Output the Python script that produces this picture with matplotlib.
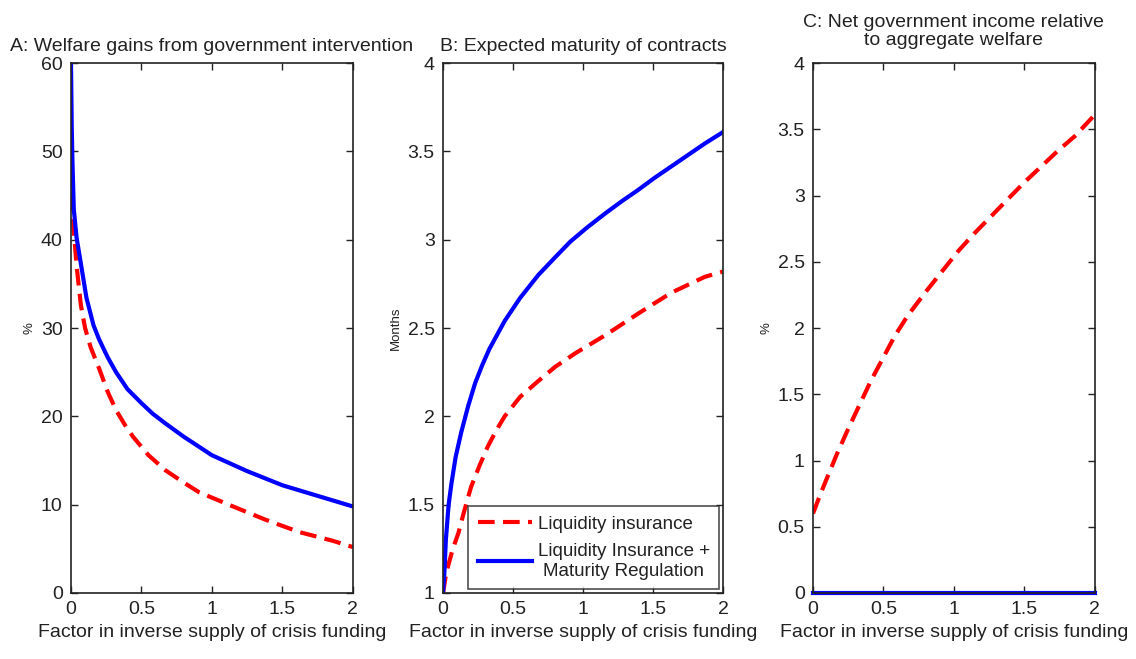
import matplotlib.pyplot as plt

plt.rcParams['font.family'] = ['Liberation Sans', 'DejaVu Sans']

# Panel A: welfare gains (%)
a_blue_x = [0, 0.005, 0.01, 0.02, 0.04, 0.07, 0.11, 0.16, 0.2, 0.26, 0.32, 0.4, 0.5, 0.58, 0.67, 0.8, 1.0,
            1.25, 1.5, 1.75, 2.0]
a_blue_y = [60, 53, 49, 43.4, 40.2, 37.3, 33.4, 30.3, 28.7, 26.7, 25.0, 23.1, 21.5, 20.3, 19.2, 17.7, 15.6,
            13.8, 12.2, 11.0, 9.8]
a_red_x = [0, 0.005, 0.01, 0.02, 0.04, 0.07, 0.1, 0.14, 0.2, 0.26, 0.32, 0.38, 0.44, 0.55, 0.67, 0.8, 0.91,
           1.03, 1.15, 1.38, 1.62, 1.86, 2.0]
a_red_y = [48, 46, 44, 41, 37, 32.6, 30.0, 27.8, 25.4, 22.8, 20.7, 19.1, 17.7, 15.6, 13.9, 12.5, 11.4,
           10.6, 9.8, 8.3, 6.9, 5.9, 5.2]

# Panel B: expected maturity (months)
b_blue_x = [0, 0.01, 0.02, 0.04, 0.06, 0.09, 0.13, 0.18, 0.23, 0.28, 0.33, 0.44, 0.55, 0.68, 0.8, 0.91,
            1.03, 1.16, 1.28, 1.39, 1.51, 1.63, 1.75, 1.87, 2.0]
b_blue_y = [1.0, 1.12, 1.3, 1.5, 1.62, 1.77, 1.91, 2.06, 2.19, 2.29, 2.38, 2.54, 2.67, 2.8, 2.9, 2.99,
            3.07, 3.15, 3.22, 3.28, 3.35, 3.415, 3.48, 3.545, 3.61]
b_red_x = [0, 0.02, 0.035, 0.07, 0.11, 0.15, 0.2, 0.26, 0.32, 0.38, 0.44, 0.55, 0.68, 0.8, 0.95, 1.16,
           1.39, 1.63, 1.87, 2.0]
b_red_y = [1.0, 1.1, 1.15, 1.25, 1.34, 1.46, 1.6, 1.72, 1.83, 1.92, 2.0, 2.11, 2.2, 2.28, 2.36, 2.46,
           2.58, 2.7, 2.79, 2.82]

# Panel C: net government income relative to welfare (%)
c_red_x = [0, 0.05, 0.1, 0.17, 0.25, 0.33, 0.41, 0.5, 0.58, 0.67, 0.79, 0.91, 1.03, 1.15, 1.27, 1.38,
           1.5, 1.62, 1.74, 1.86, 2.0]
c_red_y = [0.6, 0.74, 0.87, 1.05, 1.24, 1.42, 1.6, 1.78, 1.94, 2.09, 2.26, 2.42, 2.58, 2.72, 2.85, 2.97,
           3.1, 3.22, 3.34, 3.45, 3.61]
c_blue_x = [0, 2.0]
c_blue_y = [0, 0]

xticks = [0, 0.5, 1, 1.5, 2]
xticklabels = ['0', '0.5', '1', '1.5', '2']
a_yticks = [0, 10, 20, 30, 40, 50, 60]
b_yticks = [1, 1.5, 2, 2.5, 3, 3.5, 4]
b_yticklabels = ['1', '1.5', '2', '2.5', '3', '3.5', '4']
c_yticks = [0, 0.5, 1, 1.5, 2, 2.5, 3, 3.5, 4]
c_yticklabels = ['0', '0.5', '1', '1.5', '2', '2.5', '3', '3.5', '4']

xlabel = 'Factor in inverse supply of crisis funding'
label_red = 'Liquidity insurance'
label_blue = 'Liquidity Insurance +\nMaturity Regulation'

RED = '#ff0000'
BLUE = '#0000ff'
TXT = '#222222'
LW = 3.0
DASH = (0, (4, 2))

fig = plt.figure(figsize=(11.36, 6.59), dpi=100)
axA = fig.add_axes([0.0625, 0.1002, 0.248, 0.804])
axB = fig.add_axes([0.390, 0.1002, 0.2465, 0.804])
axC = fig.add_axes([0.7157, 0.1002, 0.248, 0.804])


def style_axes(ax, yticks, ylabels, ylim, ylabel):
    ax.set_xlim(0, 2)
    ax.set_ylim(*ylim)
    ax.set_xticks(xticks)
    ax.set_xticklabels(xticklabels)
    ax.set_yticks(yticks)
    ax.set_yticklabels(ylabels)
    ax.tick_params(direction='in', top=True, right=True, length=5, width=1,
                   labelsize=14, colors=TXT, pad=6)
    for s in ax.spines.values():
        s.set_linewidth(1.2)
        s.set_color(TXT)
    ax.set_xlabel(xlabel, fontsize=14, color=TXT, labelpad=4)
    ax.set_ylabel(ylabel, fontsize=9.5, color=TXT, labelpad=4)


axA.plot(a_red_x, a_red_y, color=RED, lw=LW, linestyle=DASH)
axA.plot(a_blue_x, a_blue_y, color=BLUE, lw=LW)
style_axes(axA, a_yticks, [str(v) for v in a_yticks], (0, 60), '%')
axA.set_title('A: Welfare gains from government intervention', fontsize=14,
              color=TXT, pad=9)

axB.plot(b_red_x, b_red_y, color=RED, lw=LW, linestyle=DASH, label=label_red)
axB.plot(b_blue_x, b_blue_y, color=BLUE, lw=LW, label=label_blue)
style_axes(axB, b_yticks, b_yticklabels, (1, 4), 'Months')
axB.set_title('B: Expected maturity of contracts', fontsize=14,
              color=TXT, pad=9)
leg = axB.legend(loc='lower right', bbox_to_anchor=(1.0, 0.0), fontsize=13.5,
                 frameon=True, fancybox=False, edgecolor=TXT,
                 handlelength=2.9, borderaxespad=0.2, labelspacing=0.55,
                 handletextpad=0.3, borderpad=0.5)
leg.get_frame().set_linewidth(1.2)
for t in leg.get_texts():
    t.set_multialignment('center')
    t.set_color(TXT)

axC.plot(c_red_x, c_red_y, color=RED, lw=LW, linestyle=DASH)
axC.plot(c_blue_x, c_blue_y, color=BLUE, lw=LW, clip_on=False)
style_axes(axC, c_yticks, c_yticklabels, (0, 4), '%')
axC.set_title('C: Net government income relative\nto aggregate welfare', fontsize=14,
              color=TXT, pad=13, linespacing=1.1)

fig.savefig('out.png', dpi=100)
